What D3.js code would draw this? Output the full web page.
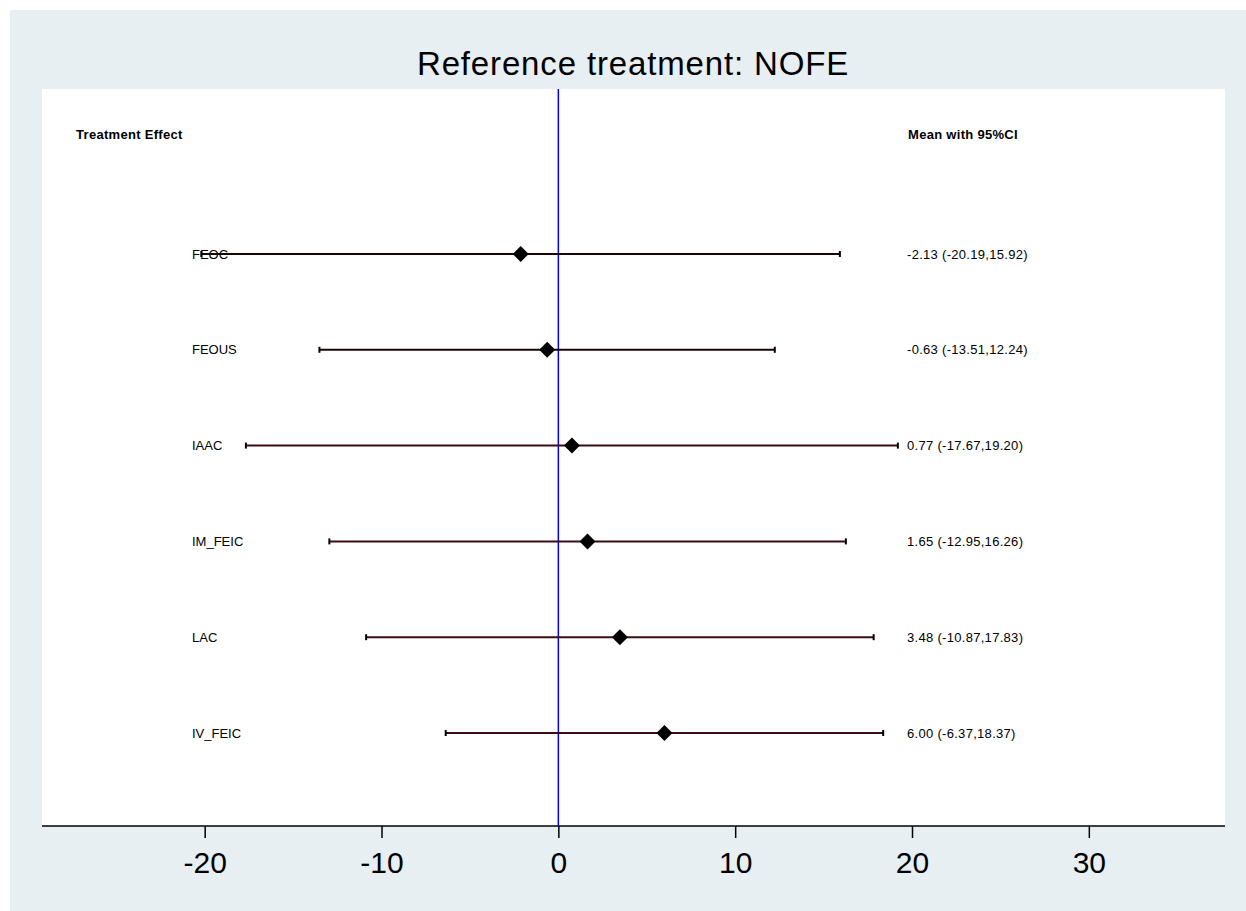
<!DOCTYPE html>
<html>
<head>
<meta charset="utf-8">
<script src="https://cdn.jsdelivr.net/npm/d3@7"></script>
<style>
  html, body { margin: 0; padding: 0; background: #fff; }
  svg { display: block; font-family: "Liberation Sans", Arial, sans-serif; }
</style>
</head>
<body>
<svg id="chart"></svg>
<script>
// Données du graphique
const treatments = ["FEOC", "FEOUS", "IAAC", "IM_FEIC", "LAC", "IV_FEIC"];
const means = [-2.13, -0.63, 0.77, 1.65, 3.48, 6.00];
const lowers = [-20.19, -13.51, -17.67, -12.95, -10.87, -6.37];
const uppers = [15.92, 12.24, 19.20, 16.26, 17.83, 18.37];
const ciLabels = ["-2.13 (-20.19,15.92)", "-0.63 (-13.51,12.24)", "0.77 (-17.67,19.20)",
                  "1.65 (-12.95,16.26)", "3.48 (-10.87,17.83)", "6.00 (-6.37,18.37)"];
const xTicks = [-20, -10, 0, 10, 20, 30];

const W = 1246, H = 911;
const plot = {left: 42, right: 1225, top: 89, bottom: 826};

const svg = d3.select('#chart').attr('width', W).attr('height', H);

// fond
svg.append('rect').attr('x', 10).attr('y', 10).attr('width', W - 10).attr('height', H - 10)
    .attr('fill', '#e8eff2');
svg.append('rect').attr('x', plot.left).attr('y', plot.top)
    .attr('width', plot.right - plot.left).attr('height', plot.bottom - plot.top)
    .attr('fill', '#fff');

// titre
svg.append('text').attr('x', 633).attr('y', 75).attr('text-anchor', 'middle')
    .attr('font-size', 33).attr('letter-spacing', 0.85).attr('fill', '#000')
    .text('Reference treatment: NOFE');

// échelles
const x = d3.scaleLinear().domain([-29.2, 37.7]).range([plot.left, plot.right]);
const y = d3.scalePoint().domain(treatments).range([254, 733]);

// axe X
const xAxis = svg.append('g').attr('transform', `translate(0,${plot.bottom})`)
    .call(d3.axisBottom(x).tickValues(xTicks).tickSize(12).tickPadding(14).tickFormat(d => String(d)));
xAxis.select('.domain').attr('d', `M${plot.left},0H${plot.right}`).attr('stroke', '#000').attr('stroke-width', 1.5);
xAxis.selectAll('.tick line').attr('stroke', '#000').attr('stroke-width', 1.5);
xAxis.selectAll('.tick text').attr('font-size', 30).attr('fill', '#000')
    .attr('font-family', '"Liberation Sans", Arial, sans-serif');

// ligne de référence
svg.append('line').attr('x1', x(0)).attr('x2', x(0)).attr('y1', plot.top).attr('y2', plot.bottom)
    .attr('stroke', '#0000ff').attr('stroke-width', 1.5);

// en-têtes
svg.append('text').attr('x', 76).attr('y', 139).attr('font-size', 13).attr('letter-spacing', 0.3)
    .attr('font-weight', 'bold').text('Treatment Effect');
svg.append('text').attr('x', 908).attr('y', 139).attr('font-size', 13).attr('letter-spacing', 0.3)
    .attr('font-weight', 'bold').text('Mean with 95%CI');

const rows = treatments.map((t, i) => ({t, m: means[i], lo: lowers[i], hi: uppers[i], lab: ciLabels[i]}));

// étiquettes
svg.selectAll('.rowlab').data(rows).enter().append('text')
    .attr('x', 192).attr('y', d => y(d.t)).attr('dy', '0.35em')
    .attr('font-size', 13).attr('fill', '#000').text(d => d.t);
svg.selectAll('.cilab').data(rows).enter().append('text')
    .attr('x', 907).attr('y', d => y(d.t)).attr('dy', '0.35em')
    .attr('font-size', 13).attr('letter-spacing', 0.3).attr('fill', '#000').text(d => d.lab);

// intervalles
const g = svg.selectAll('.ci').data(rows).enter().append('g');
g.append('line').attr('x1', d => x(d.lo)).attr('x2', d => x(d.hi))
    .attr('y1', d => y(d.t)).attr('y2', d => y(d.t))
    .attr('stroke', (d, i) => i < 2 ? '#1a0505' : '#3a0c14').attr('stroke-width', 2);
g.append('line').attr('x1', d => x(d.lo)).attr('x2', d => x(d.lo))
    .attr('y1', d => y(d.t) - 3).attr('y2', d => y(d.t) + 3)
    .attr('stroke', '#000').attr('stroke-width', 2);
g.append('line').attr('x1', d => x(d.hi)).attr('x2', d => x(d.hi))
    .attr('y1', d => y(d.t) - 3).attr('y2', d => y(d.t) + 3)
    .attr('stroke', '#000').attr('stroke-width', 2);

// moyennes (losanges)
g.append('path')
    .attr('d', 'M0,-8L8,0L0,8L-8,0Z')
    .attr('transform', d => `translate(${x(d.m)},${y(d.t)})`)
    .attr('fill', '#000');
</script>
</body>
</html>
